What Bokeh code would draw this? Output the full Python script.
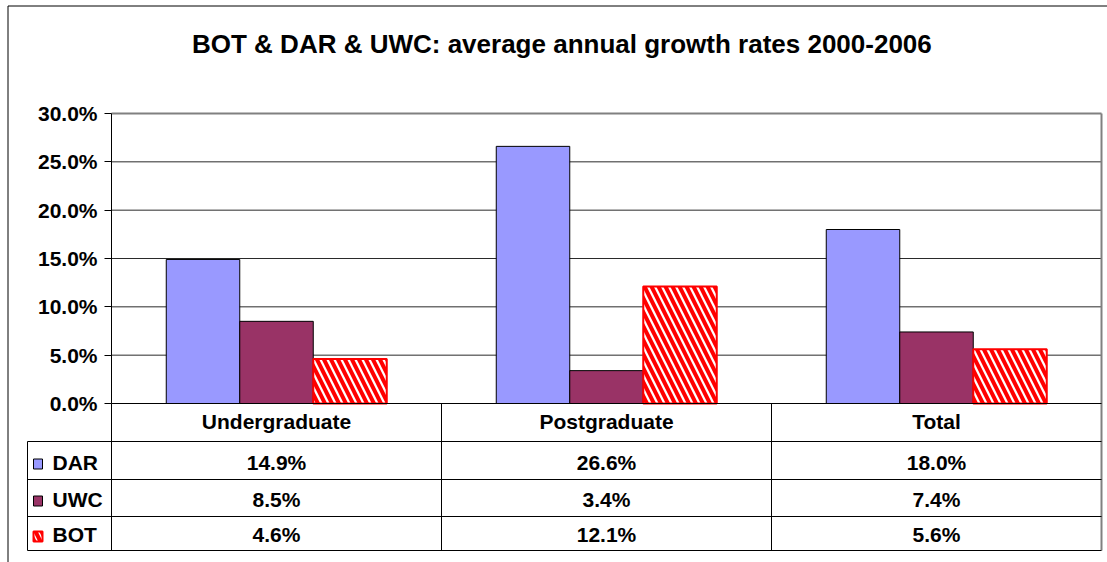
from bokeh.plotting import figure
from bokeh.models import LinearAxis, FixedTicker, NumeralTickFormatter, Range1d
from bokeh.core.properties import value
from bokeh.embed import file_html
from bokeh.resources import INLINE

# ---------------- data ----------------
categories = ["Undergraduate", "Postgraduate", "Total"]
series_names = ["DAR", "UWC", "BOT"]
dar = [0.149, 0.266, 0.180]
uwc = [0.085, 0.034, 0.074]
bot = [0.046, 0.121, 0.056]
y_ticks = [0.0, 0.05, 0.10, 0.15, 0.20, 0.25, 0.30]
title_text = "BOT & DAR &  UWC: average annual growth rates 2000-2006"

# ---------------- layout (canvas pixels) ----------------
W, H = 1107, 562
X0 = 111          # x pixel of value axis
CW = 330          # pixel width of one category
Y0 = 403          # y pixel of zero line
YMAX = 0.30
PPU = 290 / YMAX  # pixels per unit

def dx(px):
    return (px - X0) / CW

def dy(py):
    return (Y0 - py) / PPU

FONT = value("Liberation Sans")
DAR_C, UWC_C, BOT_C = "#9999FF", "#993366", "#FF0000"

p = figure(width=W, height=H, x_range=Range1d(dx(0), dx(W)), y_range=Range1d(dy(H), dy(0)),
           output_backend="svg", toolbar_location=None, x_axis_location=None,
           y_axis_location=None, min_border=0, outline_line_color=None,
           background_fill_color="white", border_fill_color="white")
for g in p.grid:
    g.grid_line_color = None

n = len(categories)
centers = [i + 0.5 for i in range(n)]
BW = 73.5 / CW

# gridlines
grid_vals = [t for t in y_ticks if 0 < t < YMAX]
p.segment(x0=[0] * len(grid_vals), x1=[n] * len(grid_vals), y0=grid_vals, y1=grid_vals,
          line_color="#2a2a2a", line_width=1)

# bars
p.vbar(x=[c - BW for c in centers], top=dar, width=BW, bottom=0,
       fill_color=DAR_C, line_color="black", line_width=1)
p.vbar(x=centers, top=uwc, width=BW, bottom=0,
       fill_color=UWC_C, line_color="black", line_width=1)
p.vbar(x=[c + BW for c in centers], top=bot, width=BW, bottom=0,
       fill_color="white", hatch_pattern="\\", hatch_color=BOT_C, hatch_scale=14,
       hatch_weight=4, line_color=BOT_C, line_width=2)

# plot area border (top and right, grey)
row_lines = [441, 479, 516, 550]
tb = dy(row_lines[-1])
p.segment(x0=[0, n], x1=[n, n], y0=[YMAX, YMAX], y1=[YMAX, tb],
          line_color="#808080", line_width=2)

# data table lines
left_col = dx(27)
p.segment(x0=[0] + [left_col] * 4, x1=[n] * 5,
          y0=[0] + [dy(v) for v in row_lines], y1=[0] + [dy(v) for v in row_lines],
          line_color="black", line_width=1)
p.segment(x0=[0, 1, 2, left_col], x1=[0, 1, 2, left_col],
          y0=[0, 0, 0, dy(row_lines[0])], y1=[tb, tb, tb, tb],
          line_color="black", line_width=1)

# outer chart border
p.segment(x0=[dx(7.5), dx(7.5)], x1=[dx(7.5), dx(W)], y0=[dy(5.5), dy(5.5)], y1=[dy(H), dy(5.5)],
          line_color="black", line_width=1)

# value axis
ax = LinearAxis(fixed_location=0, ticker=FixedTicker(ticks=y_ticks),
                formatter=NumeralTickFormatter(format="0.0%"), bounds=(0, YMAX))
ax.major_tick_out = 7
ax.major_tick_in = 0
ax.minor_tick_out = 0
ax.minor_tick_in = 0
ax.major_label_standoff = 7
ax.axis_line_color = "black"
ax.major_tick_line_color = "black"
ax.major_label_text_font = "Liberation Sans"
ax.major_label_text_font_style = "bold"
ax.major_label_text_font_size = "21px"
ax.major_label_text_color = "black"
p.add_layout(ax, "left")

# title
p.text(x=[dx(565)], y=[dy(43)], text=[title_text], text_font=FONT, text_font_style="bold",
       text_font_size="26px", text_align="center", text_baseline="alphabetic", text_color="black")

# table header
p.text(x=centers, y=[dy(421)] * n, text=categories, text_font=FONT, text_font_style="bold",
       text_font_size="21px", text_align="center", text_baseline="alphabetic", text_color="black")

# table rows
baselines = [462, 499, 534]
all_vals = [dar, uwc, bot]
for vals, bl in zip(all_vals, baselines):
    p.text(x=centers, y=[dy(bl)] * n, text=["%.1f%%" % (v * 100) for v in vals], text_font=FONT,
           text_font_style="bold", text_font_size="21px", text_align="center",
           text_baseline="alphabetic", text_color="black")

# legend column
p.text(x=[dx(52)] * 3, y=[dy(b) for b in baselines], text=series_names, text_font=FONT,
       text_font_style="bold", text_font_size="21px", text_align="left",
       text_baseline="alphabetic", text_color="black")
kx = dx(37.5)
key_centers = [463.5, 500.5, 536]
ky = [dy(c) for c in key_centers]
kw, kh = 9 / CW, 10 / PPU
p.rect(x=[kx], y=[ky[0]], width=kw, height=kh, fill_color=DAR_C, line_color="black", line_width=1)
p.rect(x=[kx], y=[ky[1]], width=kw, height=kh, fill_color=UWC_C, line_color="black", line_width=1)
p.rect(x=[kx], y=[ky[2]], width=kw, height=kh, fill_color="white", hatch_pattern="\\",
       hatch_color=BOT_C, hatch_scale=12, hatch_weight=4, line_color=BOT_C, line_width=2)

open("out.html", "w").write(file_html(p, INLINE))
